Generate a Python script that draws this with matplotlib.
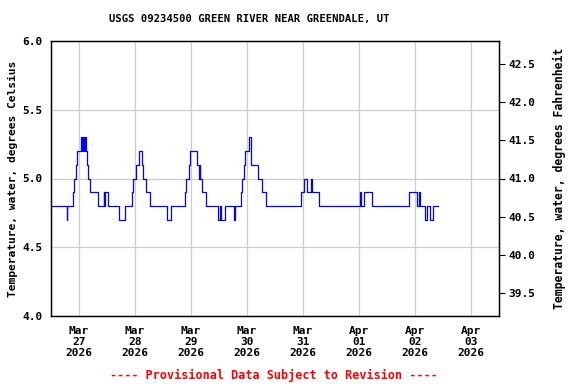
import matplotlib
matplotlib.use("Agg")
import matplotlib.pyplot as plt
import numpy as np
import pandas as pd

# step changes: hours after 2026-03-27 00:00, water temperature (deg C)
HOURS = [-12.0, -5.25, -5.0, -2.5, -2.25, -1.25, -0.75, 0.75, 1.25, 1.75, 2.25,
         2.5, 3.0, 3.5, 4.0, 4.75, 8.25, 10.5, 10.75, 11.0, 12.25, 17.0, 19.75,
         22.5, 23.25, 24.25, 25.5, 27.0, 27.5, 28.5, 30.5, 37.5, 39.5, 45.25,
         46.0, 47.0, 47.75, 50.75, 51.5, 51.75, 52.0, 52.75, 54.5, 59.75, 60.25,
         60.75, 62.75, 66.5, 66.75, 69.5, 70.0, 70.5, 71.0, 72.75, 73.5, 73.75,
         76.75, 78.5, 80.0, 95.0, 96.5, 97.5, 99.5, 100.0, 102.75, 120.5, 120.75,
         122.0, 125.5, 141.25, 145.0, 145.5, 146.0, 148.25, 149.25, 150.25,
         151.5, 153.75]
TEMP_C = [4.8, 4.7, 4.8, 4.9, 5.0, 5.1, 5.2, 5.3, 5.2, 5.3, 5.2,
          5.3, 5.2, 5.1, 5.0, 4.9, 4.8, 4.9, 4.8, 4.9, 4.8, 4.7, 4.8,
          4.9, 5.0, 5.1, 5.2, 5.1, 5.0, 4.9, 4.8, 4.7, 4.8, 4.9,
          5.0, 5.1, 5.2, 5.1, 5.0, 5.1, 5.0, 4.9, 4.8, 4.7, 4.8,
          4.7, 4.8, 4.7, 4.8, 4.9, 5.0, 5.1, 5.2, 5.3, 5.2, 5.1,
          5.0, 4.9, 4.8, 4.9, 5.0, 4.9, 5.0, 4.9, 4.8, 4.9, 4.8,
          4.9, 4.8, 4.9, 4.8, 4.9, 4.8, 4.7, 4.8, 4.7,
          4.8, 4.8]

TITLE = "USGS 09234500 GREEN RIVER NEAR GREENDALE, UT"
FOOTER = "---- Provisional Data Subject to Revision ----"
F_TICKS = [39.5, 40.0, 40.5, 41.0, 41.5, 42.0, 42.5]

FONT = "DejaVu Sans Mono"

base = pd.Timestamp("2026-03-27")
times = [base + pd.Timedelta(hours=h) for h in HOURS]

fig = plt.figure(figsize=(5.76, 3.84), dpi=100)
ax = fig.add_axes([51 / 576, 1 - 316 / 384, 448 / 576, 275 / 384])

ax.plot(times, TEMP_C, color="#0000ff", linewidth=0.9, drawstyle="steps-post")

ax.set_xlim(base - pd.Timedelta(hours=12), base + pd.Timedelta(days=7, hours=12))
ax.set_ylim(4.0, 6.0)
ax.set_yticks([4.0, 4.5, 5.0, 5.5, 6.0])
ax.set_yticklabels(["4.0", "4.5", "5.0", "5.5", "6.0"], fontfamily=FONT,
                   fontweight="bold", fontsize=8)
ticks = pd.date_range("2026-03-27", periods=8, freq="D")
ax.set_xticks(ticks)
ax.set_xticklabels([t.strftime("%b\n%d\n%Y") for t in ticks], fontfamily=FONT,
                   fontweight="bold", fontsize=8, linespacing=1.15)
ax.tick_params(axis="both", length=0, pad=6)
ax.tick_params(axis="x", pad=7)
ax.grid(True, color="#cccccc", linewidth=0.9)
ax.set_axisbelow(True)
for s in ax.spines.values():
    s.set_linewidth(1.0)

ax.set_ylabel("Temperature, water, degrees Celsius", fontfamily=FONT,
              fontweight="bold", fontsize=8.1)
ax.yaxis.set_label_coords(-33 / 448, 0.5)

# Fahrenheit axis on the right
ax2 = ax.twinx()
ax2.set_ylim(4.0 * 1.8 + 32, 6.0 * 1.8 + 32)
ax2.set_yticks(F_TICKS)
ax2.set_yticklabels([f"{v:.1f}" for v in F_TICKS], fontfamily=FONT,
                    fontweight="bold", fontsize=8)
ax2.tick_params(axis="y", length=4, pad=3)
ax2.set_ylabel("Temperature, water, degrees Fahrenheit", fontfamily=FONT,
               fontweight="bold", fontsize=8.3)
ax2.yaxis.set_label_coords(502 / 448, 0.5)

fig.text(249 / 576, 1 - 19 / 384, TITLE, ha="center", va="center", fontfamily=FONT,
         fontweight="bold", fontsize=7.6)
fig.text(274 / 576, 1 - 375 / 384, FOOTER, ha="center", va="center", fontfamily=FONT,
         fontweight="bold", fontsize=8.5, color="red")

fig.savefig("out.png", dpi=100)
